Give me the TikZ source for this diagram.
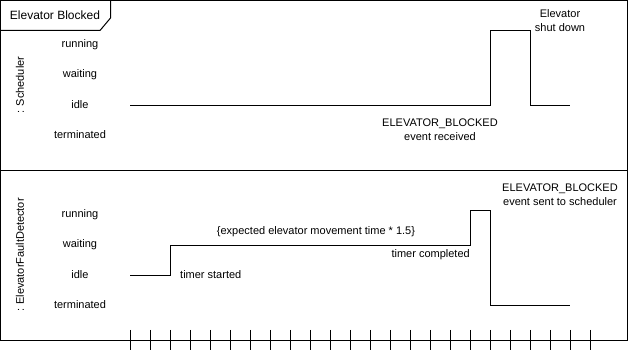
\documentclass[tikz,border=0pt]{standalone}
\usepackage{fontspec}
\setmainfont{Liberation Sans}
\usetikzlibrary{positioning}

\begin{document}
\begin{tikzpicture}[
        x=1pt, y=-1pt,
        node distance=30pt,
        lbl/.style={font=\fontsize{11}{14}\selectfont, align=center,
                    inner sep=0pt},
        state/.style={lbl},
        lane/.style={lbl, rotate=90},
        edge/.style={line width=1pt},
        wave/.style={line width=1pt, line join=miter},
      ]
        \useasboundingbox (0,0) rectangle (632,352);
        % frame, lane separator and title tab
        \draw[edge] (0.5,0.5) rectangle (627.5,340.5);
        \draw[edge] (0.5,170.5) -- (627.5,170.5);
        \draw[edge] (0.5,30.5) -- (100,30.5) -- (110.5,18) -- (110.5,0.5);
        \node[font=\fontsize{12}{14}\selectfont, inner sep=0pt] (title)
          at (55,15) {Elevator Blocked};
        % time axis
        \foreach \t in {130,150,...,590}
          \draw[edge] (\t.5,330) -- (\t.5,350);

        % scheduler lane
        \node[lane] (sched) at (20,85) {: Scheduler};
        \node[state] (sch-run) at (80,45) {running};
        \node[state, below of=sch-run] (sch-wait) {waiting};
        \node[state, below of=sch-wait] (sch-idle) {idle};
        \node[state, below of=sch-idle] (sch-term) {terminated};
        \draw[wave] (130,105.5) -- (490.5,105.5) -- (490.5,30.5)
          -- (530.5,30.5) -- (530.5,105.5) -- (570,105.5);
        \node[lbl] (blk-recv) at (440,130) {ELEVATOR\_BLOCKED\\event received};
        \node[lbl] (shutdown) at (560,21) {Elevator\\shut down};

        % fault detector lane
        \node[lane] (fault) at (20,255) {: ElevatorFaultDetector};
        \node[state] (fd-run) at (80,215) {running};
        \node[state, below of=fd-run] (fd-wait) {waiting};
        \node[state, below of=fd-wait] (fd-idle) {idle};
        \node[state, below of=fd-idle] (fd-term) {terminated};
        \draw[wave] (130,275.5) -- (170.5,275.5) -- (170.5,245.5)
          -- (470.5,245.5) -- (470.5,210.5) -- (490.5,210.5)
          -- (490.5,305.5) -- (570,305.5);
        \node[lbl, anchor=west] (t-start) at (180,275) {timer started};
        \node[lbl] (t-len) at (316,232)
          {\{expected elevator movement time * 1.5\}};
        \node[lbl, anchor=east] (t-done) at (470,255) {timer completed};
        \node[lbl] (blk-sent) at (560,195)
          {ELEVATOR\_BLOCKED\\event sent to scheduler};
      \end{tikzpicture}
\end{document}
